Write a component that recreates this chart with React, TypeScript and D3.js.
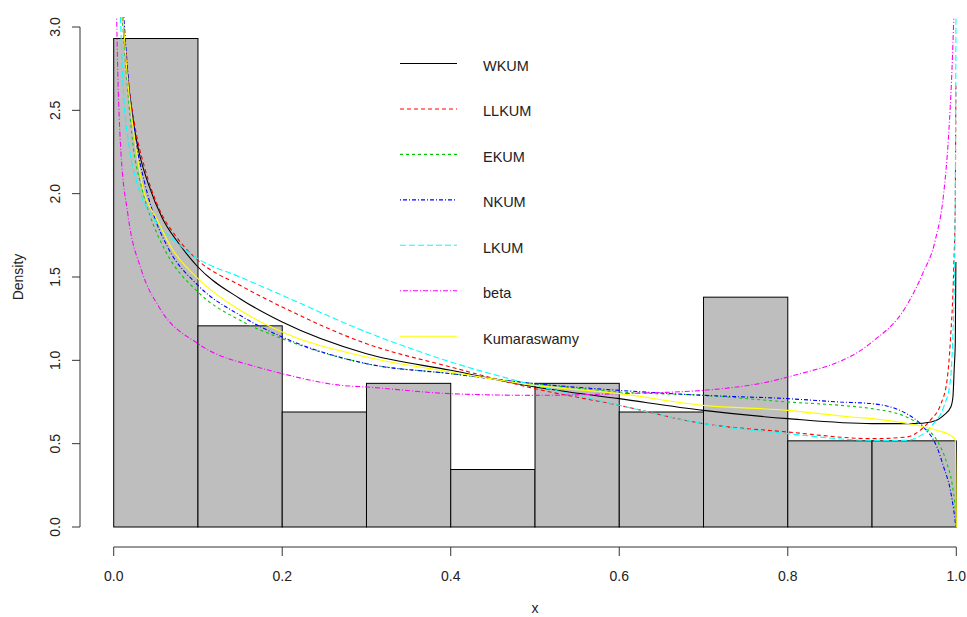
import React from "react";
import * as d3 from "d3";

// Histogram (density scale), bins of width 0.1
const binStarts = [0.0, 0.1, 0.2, 0.3, 0.4, 0.5, 0.6, 0.7, 0.8, 0.9];
const binDensity = [2.931, 1.207, 0.69, 0.862, 0.345, 0.862, 0.69, 1.379, 0.517, 0.517];

const xTicks = [0, 0.2, 0.4, 0.6, 0.8, 1.0];
const xTickLabels = ["0.0", "0.2", "0.4", "0.6", "0.8", "1.0"];
const yTicks = [0, 0.5, 1.0, 1.5, 2.0, 2.5, 3.0];
const yTickLabels = ["0.0", "0.5", "1.0", "1.5", "2.0", "2.5", "3.0"];

// Fitted density curves as [x, density]
const wkum: [number, number][] = [
  [0.011, 3.06], [0.017, 2.68], [0.025, 2.38], [0.03, 2.25], [0.041, 2.06], [0.058, 1.85],
  [0.076, 1.71], [0.1, 1.56], [0.15, 1.37], [0.2, 1.23], [0.3, 1.04], [0.4, 0.94], [0.5, 0.84],
  [0.6, 0.77], [0.7, 0.7], [0.8, 0.65], [0.9, 0.62], [0.95, 0.62], [0.97, 0.63], [0.985, 0.67],
  [0.9935, 0.72], [0.996, 0.78], [0.9976, 0.96], [0.9988, 1.1], [0.9995, 1.59],
];
const llkum: [number, number][] = [
  [0.011, 3.06], [0.017, 2.7], [0.025, 2.41], [0.037, 2.15], [0.053, 1.92], [0.076, 1.73],
  [0.1, 1.6], [0.15, 1.45], [0.2, 1.32], [0.3, 1.1], [0.4, 0.96], [0.5, 0.83], [0.6, 0.73],
  [0.7, 0.62], [0.8, 0.57], [0.9, 0.53], [0.941, 0.54], [0.957, 0.58], [0.969, 0.64],
  [0.981, 0.73], [0.989, 0.88], [0.993, 1.12], [0.997, 1.56], [0.9988, 1.96], [0.9995, 2.66],
];
const ekum: [number, number][] = [
  [0.01, 3.06], [0.016, 2.66], [0.023, 2.29], [0.033, 2.04], [0.043, 1.87], [0.061, 1.66],
  [0.1, 1.41], [0.15, 1.24], [0.2, 1.13], [0.3, 0.98], [0.4, 0.92], [0.5, 0.86], [0.6, 0.81],
  [0.7, 0.79], [0.8, 0.75], [0.862, 0.73], [0.9, 0.71], [0.941, 0.66], [0.961, 0.6],
  [0.977, 0.52], [0.989, 0.38], [0.995, 0.26], [0.9988, 0.1], [1.0, 0.0],
];
const nkum: [number, number][] = [
  [0.012, 3.06], [0.018, 2.65], [0.025, 2.36], [0.037, 2.06], [0.047, 1.88], [0.064, 1.68],
  [0.1, 1.45], [0.15, 1.27], [0.2, 1.14], [0.3, 0.98], [0.4, 0.92], [0.5, 0.86], [0.6, 0.82],
  [0.7, 0.79], [0.8, 0.77], [0.862, 0.75], [0.9, 0.74], [0.941, 0.68], [0.961, 0.6],
  [0.977, 0.48], [0.985, 0.36], [0.993, 0.22], [0.997, 0.1], [0.9995, 0.0],
];
const lkum: [number, number][] = [
  [0.008, 3.06], [0.011, 2.67], [0.019, 2.26], [0.028, 2.06], [0.049, 1.84], [0.072, 1.72],
  [0.1, 1.61], [0.15, 1.5], [0.2, 1.39], [0.3, 1.17], [0.4, 0.99], [0.5, 0.85], [0.6, 0.73],
  [0.7, 0.62], [0.8, 0.56], [0.9, 0.52], [0.94, 0.52], [0.961, 0.56], [0.973, 0.62],
  [0.985, 0.72], [0.993, 0.88], [0.996, 1.16], [0.998, 1.56], [0.9988, 1.96], [0.9996, 3.06],
];
const betaFit: [number, number][] = [
  [0.0035, 3.05], [0.005, 2.7], [0.008, 2.3], [0.017, 1.87], [0.033, 1.54], [0.055, 1.31],
  [0.1, 1.1], [0.17, 0.96], [0.2, 0.92], [0.27, 0.85], [0.3, 0.84], [0.4, 0.8], [0.5, 0.79],
  [0.6, 0.8], [0.7, 0.82], [0.8, 0.9], [0.9, 1.11], [0.94, 1.32], [0.96, 1.52], [0.975, 1.72],
  [0.985, 2.0], [0.991, 2.36], [0.995, 2.76], [0.997, 3.05],
];
const kumaraswamy: [number, number][] = [
  [0.011, 3.06], [0.017, 2.66], [0.023, 2.4], [0.035, 2.03], [0.051, 1.85], [0.068, 1.68],
  [0.1, 1.49], [0.15, 1.3], [0.2, 1.17], [0.3, 1.02], [0.4, 0.93], [0.5, 0.85], [0.6, 0.8],
  [0.7, 0.73], [0.8, 0.7], [0.875, 0.66], [0.9, 0.65], [0.953, 0.61], [0.977, 0.58],
  [0.993, 0.55], [0.9988, 0.52], [0.9995, 0.3], [1.0, 0.0],
];

const seriesNames = ["WKUM", "LLKUM", "EKUM", "NKUM", "LKUM", "beta", "Kumaraswamy"];
const seriesData = [wkum, llkum, ekum, nkum, lkum, betaFit, kumaraswamy];
const seriesColors = ["#000000", "#FF0000", "#00CD00", "#0000FF", "#00FFFF", "#FF00FF", "#FFFF00"];
const seriesDash = ["", "4,3", "3,3", "1,2,4,2", "6,3", "1,2,5,2", ""];

const W = 967;
const H = 617;

export default function App() {
  const x = d3.scaleLinear().domain([-0.04, 1.04]).range([80, 990]);
  const y = d3.scaleLinear().domain([-0.12, 3.12]).range([547, 7]);
  const line = d3
    .line<[number, number]>()
    .x((d) => x(d[0]))
    .y((d) => y(d[1]))
    .curve(d3.curveMonotoneX);

  const font = "'Liberation Sans', Arial, sans-serif";
  const legendTop = 63.5;
  const legendStep = 45.45;

  return (
    <svg
      width={W}
      height={H}
      style={{ position: "absolute", left: 0, top: 0, background: "#fff" }}
      fontFamily={font}
    >
      <defs>
        <clipPath id="plotclip">
          <rect x={80} y={y(3.07)} width={910} height={547 - y(3.07)} />
        </clipPath>
      </defs>
      <rect x={0} y={0} width={W} height={H} fill="#fff" />

      {/* histogram bars */}
      {binStarts.map((b, i) => (
        <rect
          key={i}
          x={x(b)}
          y={y(binDensity[i])}
          width={x(b + 0.1) - x(b)}
          height={y(0) - y(binDensity[i])}
          fill="#BEBEBE"
          stroke="#000"
          strokeWidth={1}
        />
      ))}

      {/* density curves */}
      <g clipPath="url(#plotclip)" fill="none">
        {seriesData.map((s, i) => (
          <path
            key={i}
            d={line(s) || ""}
            stroke={seriesColors[i]}
            strokeWidth={1.1}
            strokeDasharray={seriesDash[i] || undefined}
          />
        ))}
      </g>

      {/* x axis */}
      <g stroke="#333" strokeWidth={1}>
        <line x1={x(0)} x2={x(1)} y1={547} y2={547} />
        {xTicks.map((t, i) => (
          <line key={i} x1={x(t)} x2={x(t)} y1={547} y2={556} />
        ))}
      </g>
      {xTicks.map((t, i) => (
        <text key={i} x={x(t)} y={580.5} textAnchor="middle" fontSize={14} fill="#222">
          {xTickLabels[i]}
        </text>
      ))}

      {/* y axis */}
      <g stroke="#333" strokeWidth={1}>
        <line x1={80} x2={80} y1={y(0)} y2={y(3)} />
        {yTicks.map((t, i) => (
          <line key={i} x1={72} x2={80} y1={y(t)} y2={y(t)} />
        ))}
      </g>
      {yTicks.map((t, i) => (
        <text
          key={i}
          x={60}
          y={y(t)}
          textAnchor="middle"
          fontSize={14}
          fill="#222"
          transform={`rotate(-90, 60, ${y(t)})`}
        >
          {yTickLabels[i]}
        </text>
      ))}

      {/* axis titles */}
      <text x={535} y={613} textAnchor="middle" fontSize={14} fill="#222">
        x
      </text>
      <text
        x={23}
        y={277}
        textAnchor="middle"
        fontSize={14}
        fill="#222"
        transform="rotate(-90, 23, 277)"
      >
        Density
      </text>

      {/* legend */}
      {seriesNames.map((n, i) => {
        const ly = legendTop + i * legendStep;
        return (
          <g key={n}>
            <line
              x1={400}
              x2={457}
              y1={ly}
              y2={ly}
              stroke={seriesColors[i]}
              strokeWidth={1.1}
              strokeDasharray={seriesDash[i] || undefined}
            />
            <text x={483} y={ly + 7.3} fontSize={14.5} fill="#222">
              {n}
            </text>
          </g>
        );
      })}
    </svg>
  );
}
